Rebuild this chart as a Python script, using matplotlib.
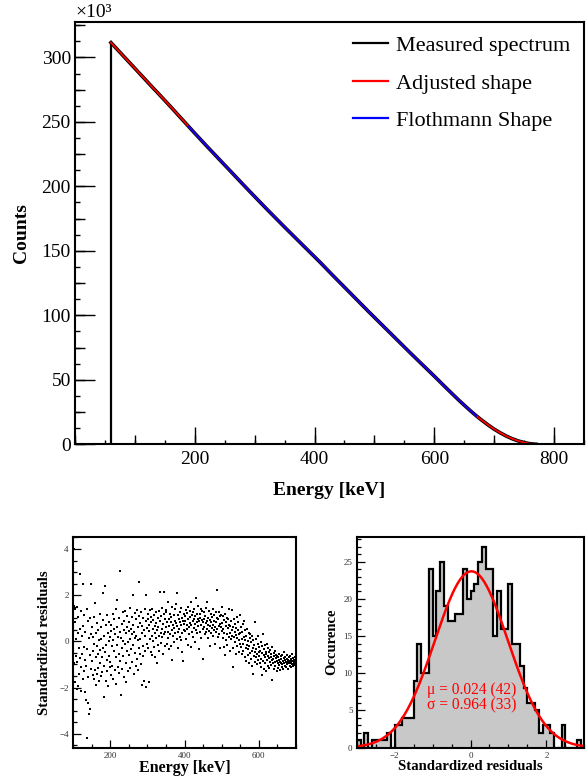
import numpy as np
import matplotlib
matplotlib.use("Agg")
import matplotlib.pyplot as plt
from matplotlib.ticker import MultipleLocator, NullFormatter, FixedLocator

plt.rcParams["font.family"] = ["Liberation Serif", "DejaVu Serif"]

# ---- measured beta spectrum (counts in units of 10^3), 10 keV steps
energy = [60, 70, 80, 90, 100, 110, 120, 130, 140, 150, 160, 170, 180, 190,
          200, 210, 220, 230, 240, 250, 260, 270, 280, 290, 300, 310, 320,
          330, 340, 350, 360, 370, 380, 390, 400, 410, 420, 430, 440, 450,
          460, 470, 480, 490, 500, 510, 520, 530, 540, 550, 560, 570, 580,
          590, 600, 610, 620, 630, 640, 650, 660, 670, 680, 690, 700, 710,
          720, 730, 740, 750, 760, 770]
counts = [311.5, 306.5, 301.5, 296.5, 291.5, 286.5, 281.5, 276.5, 271.6, 266.6,
          261.6, 256.5, 251.4, 246.3, 241.2, 236.2, 231.2, 226.3, 221.4, 216.5,
          211.6, 206.7, 201.8, 196.9, 192.1, 187.3, 182.5, 177.8, 173.1, 168.4,
          163.8, 159.2, 154.6, 150.0, 145.4, 140.8, 136.0, 131.2, 126.5, 121.8,
          117.1, 112.4, 107.7, 103.0, 98.4, 93.8, 89.2, 84.6, 80.0, 75.4,
          70.8, 66.3, 61.8, 57.3, 52.8, 48.2, 43.6, 39.1, 34.6, 30.3,
          26.1, 22.1, 18.4, 14.9, 11.7, 8.9, 6.4, 4.3, 2.6, 1.3,
          0.4, 0.0]
flothmann_range = (190, 670)
energy_ticks = [200, 400, 600, 800]

# ---- standardized residuals, 1 keV bins from 100 to 700 keV
res_start, res_step = 100, 1
residuals = [
    -0.45, 4.02, 1.55, -0.95, 0.85, -1.75, 1.42, -0.62, 0.10, -2.05,
    1.48, -0.88, 0.35, -1.92, 1.05, -0.30, -1.40, 2.92, -0.72, 0.55,
    -1.10, 1.30, -2.15, 0.22, -0.55, 2.47, -1.65, 0.68, -0.25, -1.30,
    1.12, -0.80, -2.20, 0.40, -1.05, -2.54, 1.38, -4.18, -0.35, -2.69,
    0.90, -1.55, 0.15, -3.15, 1.02, -0.60, -2.95, 2.47, -1.20, 0.30,
    -0.85, 0.62, -1.45, 0.18, -0.40, -1.62, 1.05, -0.12, -1.25, 1.64,
    -0.70, 0.35, -1.88, -0.22, 0.80, -1.40, -0.55, 0.48, -1.15, 0.05,
    -1.70, 1.20, -0.38, -0.95, 0.60, -1.52, 0.12, -0.68, -1.35, 0.92,
    -0.30, 2.11, -2.43, 0.25, -1.05, -0.48, 2.41, -1.72, 0.70, -0.15,
    -1.30, 1.15, -0.80, 0.38, -1.95, 0.02, -0.62, 0.85, -1.12, 0.20,
    -0.90, 0.45, -1.48, 0.72, -0.20, -1.05, 1.18, 0.05, -1.62, 0.55,
    -0.42, 0.95, -1.25, 0.30, -0.70, 1.40, -1.85, 1.79, -0.15, 0.62,
    -1.10, 0.20, -0.55, 1.02, -1.38, 0.40, 3.04, -0.85, 0.15, -2.33,
    0.75, -0.30, -1.20, 1.25, 0.02, -0.65, 0.50, -1.55, 0.88, -0.10,
    1.32, -0.95, 0.35, -1.75, 0.60, -0.40, 1.10, -0.05, -1.28, 0.45,
    0.85, -0.60, 1.45, 0.10, -1.15, 0.55, -0.35, 1.05, -0.90, 0.30,
    2.00, -0.15, 0.72, -1.40, 0.40, 1.22, -0.50, 0.15, -1.05, 0.95,
    0.25, -0.75, 1.35, 0.05, -1.25, 0.62, -0.30, 1.10, 2.58, -0.55,
    0.80, 0.12, -1.00, 1.28, 0.35, -1.90, 0.68, -0.20, 1.02, -0.65,
    -1.70, 0.48, 1.40, -0.40, 0.22, 0.90, 2.00, -1.97, 0.58, -0.12,
    0.95, -0.30, 1.20, 0.45, -1.75, 0.70, 1.35, 0.10, -0.45, 0.85,
    1.05, 0.25, -0.60, 1.40, 0.55, 0.02, 0.92, -0.25, 1.15, 0.38,
    -0.70, 0.65, 1.25, 0.15, 0.80, -0.95, 0.48, 1.02, -0.15, 0.60,
    1.30, 0.22, -0.40, 0.88, 2.12, 0.35, 1.08, -0.08, 0.52, 1.45,
    0.18, -0.55, 0.75, 1.18, 2.15, 0.30, -0.20, 0.95, 0.42, 1.25,
    0.62, 1.35, -0.10, 0.85, 0.40, 1.72, 0.15, 0.95, -0.35, 0.68,
    1.20, 0.30, 0.82, -0.20, 1.05, 0.50, 1.50, -0.81, 0.72, 0.25,
    1.12, 0.58, -0.05, 0.90, 1.38, 0.35, 0.78, 1.62, 2.08, 0.10,
    0.65, 1.15, 0.42, -0.30, 0.98, 0.55, 1.28, 0.20, 0.85, 1.45,
    0.05, 0.70, 1.02, 0.38, -0.45, 0.90, -0.85, 1.20, 0.48, 0.75,
    1.10, 0.45, 0.88, 1.35, 0.12, 0.70, 1.22, 0.55, -0.15, 0.95,
    1.48, 0.62, 0.30, 1.05, 0.80, 1.32, -0.25, 0.72, 1.70, 0.40,
    1.15, 0.90, 0.20, 1.25, 0.58, 0.95, 1.40, -0.05, 0.75, 1.08,
    1.86, 0.50, 0.82, 1.20, 0.35, 0.98, 1.55, 0.65, -0.35, 0.88,
    1.18, 0.42, 1.02, 0.70, 1.42, 0.15, 0.92, 1.30, 0.55, 0.85,
    -0.77, 0.95, 1.25, 0.60, 0.30, 1.10, 0.78, 1.45, 0.40, 0.88,
    1.70, 0.52, 0.15, 1.02, 0.70, 1.30, 0.45, 0.92, -0.20, 0.65,
    1.18, 0.82, 0.35, 1.05, 0.58, 1.38, 0.25, 0.72, 1.12, 0.48,
    0.90, -0.10, 0.62, 1.25, 0.40, 0.85, 1.02, 2.22, 0.55, 0.18,
    0.95, 1.28, 0.68, 0.32, 1.08, 0.75, -0.30, 0.60, 1.15, 1.50,
    0.45, 0.80, 0.15, 1.10, 0.55, -0.25, 0.92, 0.38, -0.60, 1.20,
    0.65, 0.05, 0.85, 0.30, 1.02, -0.15, 0.58, 0.95, 0.20, 0.72,
    1.40, 0.35, -0.40, 0.68, 0.10, 0.88, 1.36, 0.25, 0.50, -0.30,
    -1.10, 0.62, 0.18, 0.95, 0.40, -0.05, 0.75, 0.28, -0.55, 0.58,
    1.05, 0.15, -0.20, 0.48, 0.82, -0.45, 0.30, 0.05, 1.14, -0.10,
    0.35, -0.25, 0.60, 0.10, -0.55, 0.42, -0.10, 0.75, -0.40, 0.20,
    0.90, -0.70, 0.05, 0.48, -0.30, -0.85, 0.25, -0.15, 0.55, -0.60,
    0.02, -0.35, 0.38, -0.95, -0.20, 0.15, -0.50, 0.30, -0.75, -0.05,
    -0.42, 0.22, -1.05, -0.28, -1.43, 0.05, -0.62, -0.18, -0.90, 0.82,
    -0.45, -0.70, 0.10, -0.35, -1.00, -0.55, -0.12, -0.80, 0.25, -0.48,
    -0.65, -0.25, -0.95, -0.40, -0.05, -0.75, -1.10, -1.46, -0.50, -0.20,
    0.30, -0.85, -0.60, -1.20, -0.35, -0.70, -0.15, -0.95, -0.55, -1.30,
    -0.45, -0.10, -0.80, -0.62, -1.05, -0.30, -0.72, -0.48, -1.15, -0.90,
    -0.38, -0.68, -1.02, -0.55, -0.82, -0.25, -1.68, -0.75, -0.95, -0.50,
    -1.22, -0.65, -0.88, -0.40, -1.08, -0.72, -0.58, -1.30, -0.85, -0.62,
    -0.95, -0.70, -1.15, -0.82, -0.55, -1.02, -0.88, -1.25, -0.65, -0.92,
    -0.78, -1.10, -0.60, -0.98, -0.85, -1.20, -0.72, -0.45, -0.95, -1.05,
    -0.80, -0.68, -1.12, -0.90, -0.75, -1.00, -0.58, -0.88, -1.18, -0.82,
    -0.70, -0.95, -1.05, -0.62, -0.85, -1.10, -0.78, -0.92, -0.55, -1.00,
    -0.85, -0.72, -1.08, -0.90, -0.80, -0.98, -0.68, -1.02, -0.88, -0.95,
]

# ---- histogram of residuals, bins of 0.1 from -3 to 3
hist_lo, hist_hi, hist_w = -3.0, 3.0, 0.1
hist_counts = [1, 0, 2, 0, 1, 1, 1, 1, 2, 0,
               3, 3, 4, 4, 4, 9, 14, 10, 10, 24,
               15, 21, 25, 19, 17, 17, 18, 18, 24, 20,
               21, 22, 25, 27, 24, 24, 15, 21, 16, 16,
               22, 14, 14, 11, 8, 6, 6, 5, 2, 3,
               3, 2, 0, 0, 3, 0, 0, 0, 1, 0]
fit_mu, fit_sigma, fit_amp = 0.024, 0.964, 23.7
fit_text = ["\u03bc = 0.024 (42)", "\u03c3 = 0.964 (33)"]


def root_ticks(ax, which, major, mid, small, lens):
    # ROOT style: three tick levels, drawn inside
    sub = ax.xaxis if which == "x" else ax.yaxis
    sub.set_minor_locator(MultipleLocator(small))
    sub.set_minor_formatter(NullFormatter())
    ax.tick_params(axis=which, which="major", direction="in", length=lens[0],
                   width=1.0, top=False, right=False)
    ax.tick_params(axis=which, which="minor", direction="in", length=lens[2],
                   width=1.0, top=False, right=False)
    if which == "x":
        sec = ax.secondary_xaxis("bottom")
        sec.set_xticks(np.arange(0, 1000, mid))
        sec.tick_params(direction="in", length=lens[1], width=1.0,
                        labelbottom=False)
    else:
        sec = ax.secondary_yaxis("left")
        sec.set_yticks(np.arange(0, 400, mid))
        sec.tick_params(direction="in", length=lens[1], width=1.0,
                        labelleft=False)
    for s in sec.spines.values():
        s.set_visible(False)


fig = plt.figure(figsize=(5.87, 7.79), dpi=100)

# ================= main spectrum =================
ax = fig.add_axes([0.1278, 0.4297, 0.9949 - 0.1278, 0.9718 - 0.4297])
E = np.array(energy, dtype=float)
C = np.array(counts)
ax.vlines(E[0], 0, C[0], color="black", lw=1.6)
ax.plot(E, C, color="black", lw=2.6, label="Measured spectrum")
ax.plot(E, C, color="#ff0000", lw=1.3, label="Adjusted shape")
m = (E >= flothmann_range[0]) & (E <= flothmann_range[1])
ax.plot(E[m], C[m], color="#0000ff", lw=1.3, label="Flothmann Shape")
ax.set_xlim(0, 850)
ax.set_ylim(0, 327.5)
for s in ax.spines.values():
    s.set_linewidth(1.5)
ax.xaxis.set_major_locator(FixedLocator(energy_ticks))
ax.yaxis.set_major_locator(MultipleLocator(50))
root_ticks(ax, "x", 200, 100, 50, (12, 6.5, 3.2))
root_ticks(ax, "y", 50, 25, 12.5, (14.4, 7.2, 3.6))
ax.tick_params(axis="y", labelsize=14, pad=3)
ax.tick_params(axis="x", labelsize=14, pad=5)
ax.set_xlabel("Energy [keV]", fontsize=14, fontweight="bold", labelpad=10)
ax.set_ylabel("Counts", fontsize=14, fontweight="bold", labelpad=8)
ax.text(0.0, 1.003, "\u00d710\u00b3", transform=ax.transAxes, fontsize=14,
        ha="left", va="bottom")
leg = ax.legend(loc="upper right", frameon=False, fontsize=16,
                handlelength=1.55, handletextpad=0.4, labelspacing=0.77,
                borderaxespad=0.2, bbox_to_anchor=(1.0, 1.0))
for ln in leg.get_lines():
    ln.set_linewidth(1.6)

# ================= residuals scatter =================
ax2 = fig.add_axes([0.1244, 0.0398, 0.5043 - 0.1244, 0.3107 - 0.0398])
res_E = res_start + res_step * (np.arange(len(residuals)) + 0.5)
ax2.plot(res_E, residuals, "s", color="black", ms=2.1, mew=0)
ax2.set_xlim(100, 700)
ax2.set_ylim(-4.62, 4.52)
ax2.xaxis.set_major_locator(MultipleLocator(200))
ax2.xaxis.set_minor_locator(MultipleLocator(50))
ax2.yaxis.set_major_locator(MultipleLocator(2))
ax2.yaxis.set_minor_locator(MultipleLocator(0.5))
ax2.tick_params(which="major", direction="in", length=6, width=0.9,
                labelsize=6.5, labelcolor="#333333", pad=3)
ax2.tick_params(which="minor", direction="in", length=3, width=0.9)
for s in ax2.spines.values():
    s.set_linewidth(1.5)
ax2.set_xlabel("Energy [keV]", fontsize=11.5, fontweight="bold", labelpad=0)
ax2.set_ylabel("Standardized residuals", fontsize=10.6, fontweight="bold",
               labelpad=6)

# ================= residuals histogram =================
ax3 = fig.add_axes([0.6077, 0.0402, 0.9954 - 0.6077, 0.311 - 0.0402])
edges = np.round(np.arange(hist_lo, hist_hi + hist_w / 2, hist_w), 3)
ax3.stairs(hist_counts, edges, fill=True, color="#c8c8c8")
ax3.stairs(hist_counts, edges, color="black", lw=1.6)
gx = np.linspace(hist_lo, hist_hi, 400)
gy = fit_amp * np.exp(-0.5 * ((gx - fit_mu) / fit_sigma) ** 2)
ax3.plot(gx, gy, color="#ff0000", lw=1.8)
ax3.set_xlim(hist_lo, hist_hi)
ax3.set_ylim(0, 28.35)
ax3.xaxis.set_major_locator(MultipleLocator(2))
ax3.xaxis.set_minor_locator(MultipleLocator(0.5))
ax3.yaxis.set_major_locator(MultipleLocator(5))
ax3.yaxis.set_minor_locator(MultipleLocator(1))
ax3.tick_params(which="major", direction="in", length=6, width=0.9,
                labelsize=6.5, labelcolor="#333333", pad=3)
ax3.tick_params(which="minor", direction="in", length=3, width=0.9)
for s in ax3.spines.values():
    s.set_linewidth(1.5)
ax3.set_xlabel("Standardized residuals", fontsize=10.6, fontweight="bold",
               labelpad=0)
ax3.set_ylabel("Occurence", fontsize=10.6, fontweight="bold", labelpad=4)
ax3.text(-1.14, 7.8, fit_text[0], color="#ff0000", fontsize=11.2,
         ha="left", va="center")
ax3.text(-1.14, 5.75, fit_text[1], color="#ff0000", fontsize=11.2,
         ha="left", va="center")

fig.savefig("out.png", dpi=100)
